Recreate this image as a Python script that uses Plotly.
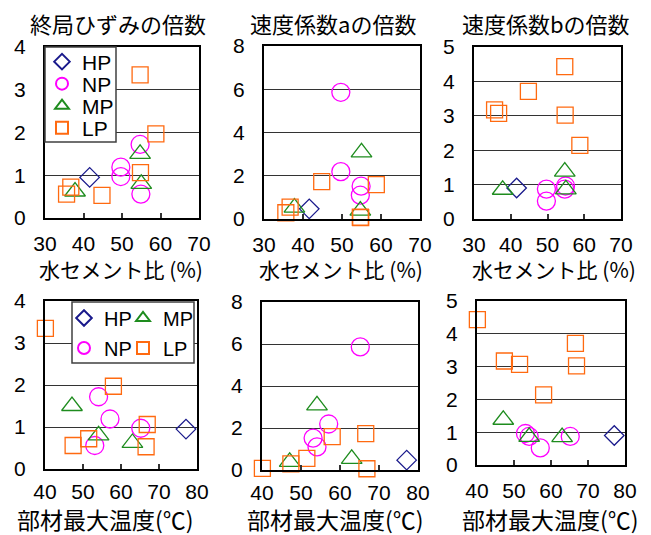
import plotly.graph_objects as go

# The page body adds an 8px margin, so the figure is drawn 8px in and 8px down.
PAGE_W, PAGE_H = 651, 535
OX, OY = 8, 8
W, H = PAGE_W - OX, PAGE_H - OY

def px(x):
    return (x - OX) / W

def py(y):
    return 1 - (y - OY) / H

# ---- data (per specimen group) ----
# HP
wc_hp = [41.6]
temp_hp = [77.1]
strain_hp = [0.95]
a_hp = [0.47]
b_hp = [0.90]
# NP
wc_np = [54.7, 49.7, 49.7, 54.9]
temp_np = [54.1, 57.1, 65.2, 53.1]
strain_np = [1.72, 1.19, 0.97, 0.56]
a_np = [1.10, 2.19, 5.86, 1.52]
b_np = [0.87, 0.52, 0.87, 0.96]
# MP
wc_mp = [37.8, 54.7, 55.0]
temp_mp = [63.0, 47.1, 54.1]
strain_mp = [0.62, 1.50, 0.80]
a_mp = [0.53, 0.39, 3.08]
b_mp = [0.85, 1.38, 0.86]
# LP
wc_lp = [54.7, 58.8, 54.8, 44.8, 36.7, 35.6]
temp_lp = [40.1, 58.0, 66.9, 66.6, 51.5, 47.4]
strain_lp = [3.35, 1.97, 1.06, 0.53, 0.72, 0.56]
a_lp = [0.08, 1.59, 0.06, 1.73, 0.55, 0.29]
b_lp = [4.43, 2.14, 3.02, 3.71, 3.07, 3.17]

series_names = ["HP", "NP", "MP", "LP"]
colors = {"HP": "#1a1a8c", "NP": "#ff00ff", "MP": "#1e8c1e", "LP": "#ff6a10"}
symbols = {"HP": "diamond-open", "NP": "circle-open", "MP": "triangle-up-open", "LP": "square-open"}
sizes = {"HP": 15, "NP": 18, "MP": 18, "LP": 16}

xdata = {
    "wc": {"HP": wc_hp, "NP": wc_np, "MP": wc_mp, "LP": wc_lp},
    "temp": {"HP": temp_hp, "NP": temp_np, "MP": temp_mp, "LP": temp_lp},
}
ydata = {
    "strain": {"HP": strain_hp, "NP": strain_np, "MP": strain_mp, "LP": strain_lp},
    "a": {"HP": a_hp, "NP": a_np, "MP": a_mp, "LP": a_lp},
    "b": {"HP": b_hp, "NP": b_np, "MP": b_mp, "LP": b_lp},
}

panel_titles = ["終局ひずみの倍数", "速度係数aの倍数", "速度係数bの倍数"]
xtitle_top = "水セメント比 (%)"
xtitle_bottom = "部材最大温度(℃)"

# panels: (xkey, ykey, xrange, yrange, ydtick, pixel box l, r, t, b, x label standoff)
panels = [
    ("wc", "strain", [30, 70], [0, 4], 1, (45, 199, 47, 218), 6),
    ("wc", "a", [30, 70], [0, 8], 2, (264, 420, 46, 219), 6),
    ("wc", "b", [30, 70], [0, 5], 1, (474, 621, 47, 219), 6),
    ("temp", "strain", [40, 80], [0, 4], 1, (45, 197, 301, 469), 3),
    ("temp", "a", [40, 80], [0, 8], 2, (262, 418, 302, 470), 3),
    ("temp", "b", [40, 80], [0, 5], 1, (477, 625, 301, 465), 6),
]

TICKFONT = dict(family="Liberation Sans, Arial, sans-serif", size=21, color="black")
CJK = "Noto Sans CJK JP"

legend_p1 = {"HP": "legend", "NP": "legend2", "MP": "legend3", "LP": "legend4"}
legend_p4 = {"HP": "legend5", "MP": "legend6", "NP": "legend7", "LP": "legend8"}

fig = go.Figure()
layout = dict(width=W, height=H, margin=dict(l=0, r=0, t=0, b=0, autoexpand=False),
              paper_bgcolor="white", plot_bgcolor="white", showlegend=True)

for i, (xk, yk, xr, yr, ydt, (pl, pr, pt, pb), xso) in enumerate(panels):
    n = i + 1
    xa = "x" if n == 1 else f"x{n}"
    ya = "y" if n == 1 else f"y{n}"
    for s in series_names:
        legend = None
        if n == 1:
            legend = legend_p1[s]
        elif n == 4:
            legend = legend_p4[s]
        tr = dict(
            x=xdata[xk][s], y=ydata[yk][s], mode="markers", name=s,
            xaxis=xa, yaxis=ya, showlegend=legend is not None, cliponaxis=False,
            marker=dict(symbol=symbols[s], size=sizes[s], color=colors[s],
                        line=dict(width=1.3, color=colors[s])),
        )
        if legend:
            tr["legend"] = legend
        fig.add_trace(go.Scatter(**tr))
    layout[f"xaxis{'' if n == 1 else n}"] = dict(
        domain=[px(pl), px(pr)], anchor=ya, range=xr, dtick=10, tick0=0,
        showgrid=False, zeroline=False, showline=True, mirror=True,
        linecolor="black", linewidth=2, ticks="inside", ticklen=5,
        tickcolor="#333", tickwidth=1.5, tickfont=TICKFONT, ticklabelstandoff=xso,
        automargin=False,
    )
    layout[f"yaxis{'' if n == 1 else n}"] = dict(
        domain=[py(pb), py(pt)], anchor=xa, range=yr, dtick=ydt, tick0=0,
        showgrid=True, gridcolor="#333333", gridwidth=1, zeroline=False,
        showline=True, mirror=True, linecolor="black", linewidth=2,
        ticks="", tickfont=TICKFONT, ticklabelstandoff=13, automargin=False,
    )

def leg(xpx, ypx, size):
    return dict(x=px(xpx), y=py(ypx), xanchor="left", yanchor="middle",
                bgcolor="rgba(0,0,0,0)", borderwidth=0,
                font=dict(family="Liberation Sans, Arial, sans-serif", size=size, color="black"),
                itemsizing="constant", tracegroupgap=0)

OFF = 20
layout["legend"] = leg(62 - OFF, 62, 21)
layout["legend2"] = leg(62 - OFF, 84, 21)
layout["legend3"] = leg(62 - OFF, 106, 21)
layout["legend4"] = leg(62 - OFF, 128, 21)
layout["legend5"] = leg(84 - OFF, 318, 20)
layout["legend6"] = leg(143 - OFF, 318, 20)
layout["legend7"] = leg(84 - OFF, 348, 20)
layout["legend8"] = leg(143 - OFF, 348, 20)

layout["shapes"] = [
    dict(type="rect", xref="paper", yref="paper", x0=px(45), x1=px(116),
         y0=py(142), y1=py(47), line=dict(color="#404040", width=1.5),
         fillcolor="white", layer="above"),
    dict(type="rect", xref="paper", yref="paper", x0=px(72), x1=px(194),
         y0=py(363), y1=py(302), line=dict(color="#404040", width=1.5),
         fillcolor="white", layer="above"),
]

ann = []
for t, cx in zip(panel_titles, [118, 333, 546]):
    ann.append(dict(text=t, x=px(cx), y=py(23), xref="paper", yref="paper",
                    xanchor="center", yanchor="middle", showarrow=False,
                    font=dict(family=CJK, size=22, color="black")))
for cx in [121, 341, 554]:
    ann.append(dict(text=xtitle_top, x=px(cx), y=py(269), xref="paper", yref="paper",
                    xanchor="center", yanchor="middle", showarrow=False,
                    font=dict(family=CJK, size=21, color="black")))
for cx in [105, 335, 550]:
    ann.append(dict(text=xtitle_bottom, x=px(cx), y=py(519), xref="paper", yref="paper",
                    xanchor="center", yanchor="middle", showarrow=False,
                    font=dict(family=CJK, size=23, color="black")))
layout["annotations"] = ann

fig.update_layout(**layout)
fig.write_html("out.html")
